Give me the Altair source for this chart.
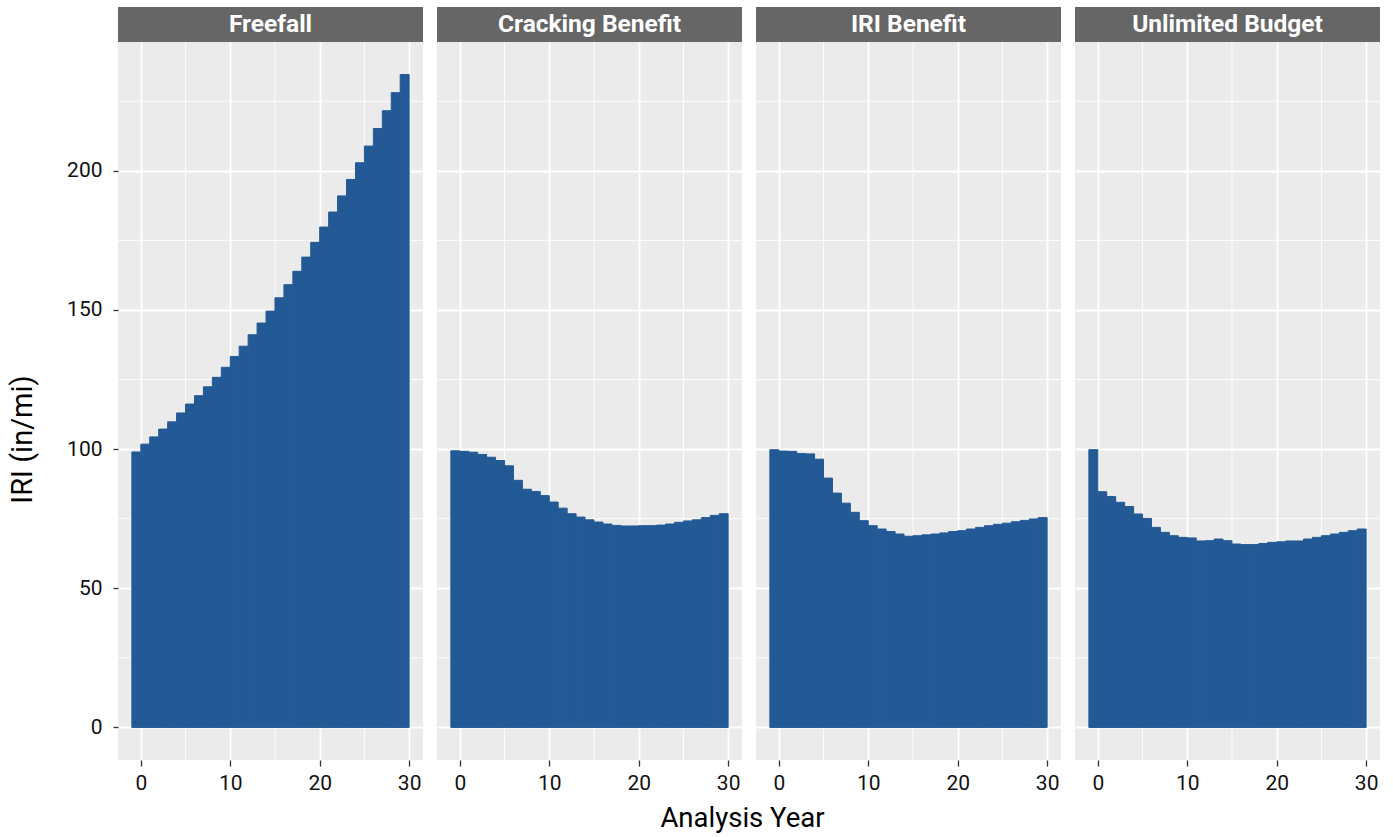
import altair as alt
import pandas as pd

# Average IRI by analysis year for each treatment scenario
years = list(range(31))
scenarios = ["Freefall", "Cracking Benefit", "IRI Benefit", "Unlimited Budget"]

freefall = [99.0, 101.8, 104.4, 107.2, 109.8, 113.0, 116.2, 119.2, 122.4, 125.8,
            129.4, 133.3, 137.0, 141.1, 145.3, 149.6, 154.4, 159.1, 163.9, 169.0,
            174.3, 179.8, 185.2, 191.0, 196.9, 202.9, 208.9, 215.2, 221.6, 228.1,
            234.6]
cracking = [99.4, 99.2, 98.9, 98.1, 97.1, 95.9, 94.0, 88.8, 85.6, 84.8,
            83.3, 81.0, 78.8, 76.8, 75.6, 74.6, 73.8, 73.1, 72.6, 72.4,
            72.4, 72.5, 72.5, 72.7, 73.1, 73.7, 74.2, 74.6, 75.4, 76.2,
            76.8]
iri_benefit = [99.8, 99.3, 99.2, 98.4, 98.3, 96.4, 89.6, 84.2, 80.6, 77.3,
               74.3, 72.5, 71.3, 70.4, 69.5, 68.7, 68.9, 69.2, 69.5, 69.9,
               70.4, 70.7, 71.3, 71.9, 72.5, 73.0, 73.4, 73.9, 74.4, 74.9,
               75.4]
unlimited = [99.8, 84.7, 83.0, 80.9, 79.4, 76.7, 75.1, 71.9, 70.1, 68.9,
             68.3, 68.1, 67.0, 67.1, 67.7, 67.1, 65.9, 65.7, 65.7, 66.1,
             66.5, 66.7, 67.0, 67.0, 67.7, 68.3, 68.9, 69.5, 70.1, 70.7,
             71.3]
series = [freefall, cracking, iri_benefit, unlimited]

x_major = [0, 10, 20, 30]
x_minor = [5, 15, 25]
y_major = [0, 50, 100, 150, 200]
y_minor = [25, 75, 125, 175, 225]

PW, PH = 305, 718
X_DOM = [-2.55, 31.55]
Y_DOM = [-11.7, 246.3]
FONT = "Roboto"
BAR = "#235a96"
PANEL_BG = "#ebebeb"


def panel(name, values, first):
    df = pd.DataFrame({"year": years, "iri": values})
    df["start"] = df["year"] - 1

    xs = alt.Scale(domain=X_DOM, nice=False, zero=False)
    ys = alt.Scale(domain=Y_DOM, nice=False, zero=False)
    x_axis = alt.Axis(values=x_major, title=None, grid=True, gridColor="white",
                      gridWidth=1.8, domain=False, tickColor="#333333",
                      tickSize=6, tickWidth=1.3, labelFont=FONT,
                      labelFontSize=21, labelColor="#111111", labelPadding=6)
    if first:
        y_axis = alt.Axis(values=y_major, title="IRI (in/mi)", grid=True,
                          gridColor="white", gridWidth=1.8, domain=False,
                          tickColor="#333333", tickSize=5, tickWidth=1.3,
                          labelFont=FONT, labelFontSize=21,
                          labelColor="#111111", labelPadding=11,
                          titleFont=FONT, titleFontSize=29,
                          titleFontWeight="normal", titleColor="black",
                          titlePadding=29, titleY=397)
    else:
        y_axis = alt.Axis(values=y_major, title=None, grid=True,
                          gridColor="white", gridWidth=1.8, domain=False,
                          ticks=False, labels=False)

    vgrid = alt.Chart(pd.DataFrame({"v": x_minor})).mark_rule(
        color="white", strokeWidth=0.9
    ).encode(x=alt.X("v:Q", scale=xs, axis=x_axis))

    hgrid = alt.Chart(pd.DataFrame({"h": y_minor})).mark_rule(
        color="white", strokeWidth=0.9
    ).encode(y=alt.Y("h:Q", scale=ys, axis=y_axis))

    bars = alt.Chart(df).mark_rect(color=BAR, stroke=BAR, strokeWidth=1).encode(
        x=alt.X("start:Q", scale=xs, axis=x_axis),
        x2="year:Q",
        y=alt.Y("iri:Q", scale=ys, axis=y_axis),
        y2=alt.datum(0),
    )

    strip_df = pd.DataFrame({"scenario": [name]})
    strip = alt.Chart(strip_df).mark_rect(color="#666666").encode(
        x=alt.value(0), x2=alt.value(PW), y=alt.value(-35), y2=alt.value(0)
    )
    strip_text = alt.Chart(strip_df).mark_text(
        color="white", font=FONT, fontSize=24.5, fontWeight="bold",
        baseline="middle"
    ).encode(text="scenario:N", x=alt.value(PW / 2), y=alt.value(-17))

    return alt.layer(vgrid, hgrid, bars, strip, strip_text).properties(
        width=PW, height=PH,
        view=alt.ViewBackground(fill=PANEL_BG, strokeWidth=0),
    )


panels = [panel(n, v, i == 0) for i, (n, v) in enumerate(zip(scenarios, series))]

chart = alt.hconcat(*panels, spacing=14, bounds="flush").properties(
    title=alt.TitleParams("Analysis Year", orient="bottom", anchor="middle",
                          font=FONT, fontSize=27.5, fontWeight="normal",
                          color="black", offset=12, dx=48),
    padding={"left": 8, "top": 7, "right": 5, "bottom": 2},
).configure(background="white")

chart.save("out.html", embed_options={"renderer": "svg", "actions": False})
